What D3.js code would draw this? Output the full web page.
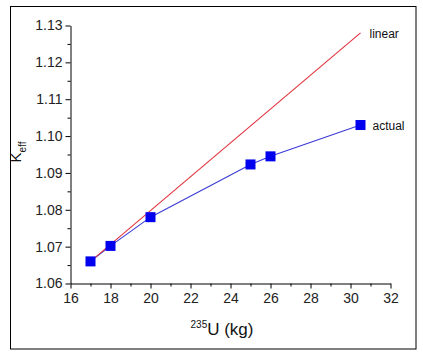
<!DOCTYPE html>
<html><head><meta charset="utf-8">
<script src="https://cdn.jsdelivr.net/npm/d3@7"></script>
<style>
body{margin:0;background:#fff;}
svg{display:block;font-family:"Liberation Sans",Arial,sans-serif;}
</style></head>
<body>
<svg id="c" width="423" height="356"></svg>
<script>
const actualX = [17, 18, 20, 25, 26, 30.5];
const actualY = [1.066, 1.0702, 1.078, 1.0923, 1.0945, 1.103];
const linearX = [17, 30.5];
const linearY = [1.066, 1.128];
const xTicks = [16, 18, 20, 22, 24, 26, 28, 30, 32];
const xMinor = [17, 19, 21, 23, 25, 27, 29, 31];
const yTicks = [1.06, 1.07, 1.08, 1.09, 1.10, 1.11, 1.12, 1.13];
const yMinor = [1.065, 1.075, 1.085, 1.095, 1.105, 1.115, 1.125];

const svg = d3.select("#c");
svg.append("rect").attr("x",10.5).attr("y",6.5).attr("width",405.5).attr("height",342.5)
  .attr("fill","none").attr("stroke","#000").attr("stroke-width",1);

const x = d3.scaleLinear().domain([16,32]).range([70.5,390.5]);
const y = d3.scaleLinear().domain([1.06,1.13]).range([283.5,25.5]);

function styleAxis(g){
  g.select(".domain").attr("stroke","#000");
  g.selectAll(".tick line").attr("stroke","#000");
  g.selectAll("text").attr("fill","#222").style("font-size","14px")
   .style("font-family","'Liberation Sans',Arial,sans-serif");
}
const gx = svg.append("g").attr("transform","translate(0,283.5)")
  .call(d3.axisBottom(x).tickValues(xTicks).tickSize(5).tickPadding(5).tickSizeOuter(0).tickFormat(d3.format("d")));
styleAxis(gx);
const gxm = svg.append("g").attr("transform","translate(0,283.5)")
  .call(d3.axisBottom(x).tickValues(xMinor).tickSize(3).tickFormat("").tickSizeOuter(0));
styleAxis(gxm); gxm.select(".domain").remove();

const gy = svg.append("g").attr("transform","translate(70.5,0)")
  .call(d3.axisLeft(y).tickValues(yTicks).tickSize(5).tickPadding(3).tickSizeOuter(0).tickFormat(d3.format(".2f")));
styleAxis(gy);
const gym = svg.append("g").attr("transform","translate(70.5,0)")
  .call(d3.axisLeft(y).tickValues(yMinor).tickSize(3).tickFormat("").tickSizeOuter(0));
styleAxis(gym); gym.select(".domain").remove();

const lin = linearX.map((v,i)=>[v,linearY[i]]);
const act = actualX.map((v,i)=>[v,actualY[i]]);
const line = d3.line().x(d=>x(d[0])).y(d=>y(d[1]));
svg.append("path").datum(act).attr("d",line).attr("fill","none")
  .attr("stroke","#3b3bd6").attr("stroke-width",1.1);
svg.append("path").datum(lin).attr("d",line).attr("fill","none")
  .attr("stroke","#e0323c").attr("stroke-width",1.1);
svg.selectAll("rect.m").data(act).enter().append("rect").attr("class","m")
  .attr("x",d=>x(d[0])-5).attr("y",d=>y(d[1])-5).attr("width",10).attr("height",10)
  .attr("fill","#0000ee");

svg.append("text").attr("x",x(30.5)+9).attr("y",y(1.128)+5).text("linear")
  .style("font-size","12px").attr("fill","#111");
svg.append("text").attr("x",x(30.5)+12).attr("y",y(1.103)+5).text("actual")
  .style("font-size","12px").attr("fill","#111");

const xt = svg.append("text").attr("x",222).attr("y",335).attr("text-anchor","middle").attr("fill","#111");
xt.append("tspan").text("235").style("font-size","10px").attr("dy","-7");
xt.append("tspan").text("U (kg)").style("font-size","17px").attr("dy","7");

const yt = svg.append("text").attr("transform","translate(21,152) rotate(-90)")
  .attr("text-anchor","middle").attr("fill","#111");
yt.append("tspan").text("K").style("font-size","15px");
yt.append("tspan").text("eff").style("font-size","10px").attr("dy","5");
</script>
</body></html>
